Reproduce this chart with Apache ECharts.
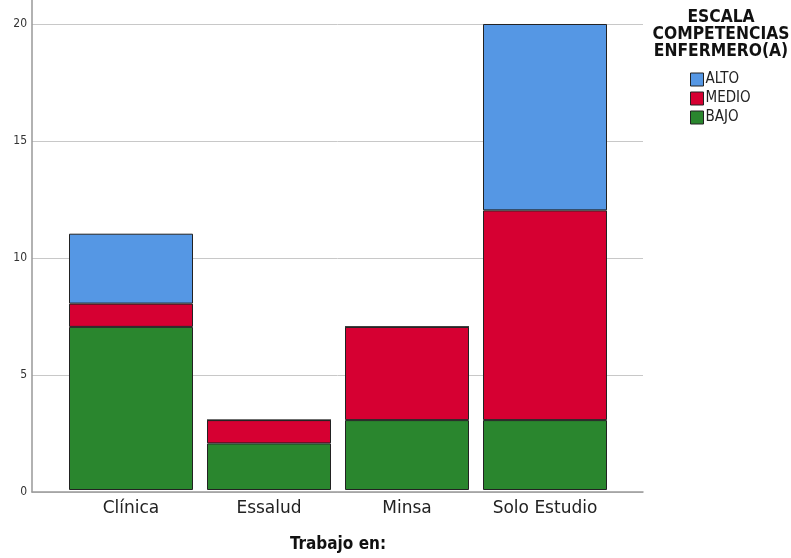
<!DOCTYPE html>
<html>
<head>
<meta charset="utf-8">
<script src="https://cdn.jsdelivr.net/npm/echarts@6/dist/echarts.min.js"></script>
<style>html,body{margin:0;padding:0;background:#fff}#c{width:791px;height:558px}</style>
</head>
<body>
<div id="c"></div>
<script>
const categories = ['Clínica', 'Essalud', 'Minsa', 'Solo Estudio'];
const bajo  = [7, 2, 3, 3];
const medio = [1, 1, 4, 9];
const alto  = [3, 0, 0, 8];
const seriesNames = ['ALTO', 'MEDIO', 'BAJO'];
const legendTitle = 'ESCALA\nCOMPETENCIAS\nENFERMERO(A)';
const xTitle = 'Trabajo en:';
const yMax = 21.03;
const yTickStep = 5;

const colors = { ALTO: '#5597E4', MEDIO: '#D60032', BAJO: '#2A862E' };
const FONT = 'DejaVu Sans';
const FONTC = 'DejaVu Sans Condensed';

const chart = echarts.init(document.getElementById('c'), null, { renderer: 'canvas' });

function barSeries(name, data) {
  return {
    name: name, type: 'bar', stack: 'total', data: data,
    xAxisIndex: 1, yAxisIndex: 1,
    barWidth: 124,
    itemStyle: { color: colors[name], borderColor: '#222', borderWidth: 1 },
    emphasis: { disabled: true },
    animation: false
  };
}

chart.setOption({
  animation: false,
  grid: [
    { left: 32, right: 148, top: 0, bottom: 66 },
    { left: 62, right: 177, top: 0, bottom: 66 }
  ],
  title: {
    text: legendTitle,
    left: 721, top: 9, padding: 0,
    textAlign: 'center',
    textStyle: { fontFamily: FONTC, fontWeight: 'bold', fontSize: 17.3, lineHeight: 17, color: '#111' }
  },
  legend: {
    data: seriesNames,
    orient: 'vertical',
    left: 690, top: 72, padding: 0,
    itemWidth: 13, itemHeight: 13, itemGap: 4,
    icon: 'rect',
    textStyle: { fontFamily: FONTC, fontSize: 15, lineHeight: 14, color: '#222', padding: [0, 0, 0, -3] },
    itemStyle: { borderColor: '#222', borderWidth: 1 }
  },
  xAxis: [
    {
      gridIndex: 0, type: 'value', min: 0, max: 1,
      axisLine: { show: true, onZero: false, lineStyle: { color: '#999', width: 1.5 } },
      axisTick: { show: false }, axisLabel: { show: false }, splitLine: { show: false }
    },
    {
      gridIndex: 1, type: 'category', data: categories,
      axisLine: { show: false }, axisTick: { show: false },
      axisLabel: { fontFamily: FONT, fontSize: 17, color: '#222', margin: 10 },
      name: xTitle, nameLocation: 'middle', nameGap: 46,
      nameTextStyle: { fontFamily: FONTC, fontWeight: 'bold', fontSize: 17, color: '#111' }
    }
  ],
  yAxis: [
    {
      gridIndex: 0, type: 'value', min: 0, max: yMax, interval: yTickStep,
      axisLine: { show: true, lineStyle: { color: '#999', width: 1.5 } },
      axisTick: { show: false },
      axisLabel: {
        fontFamily: FONTC, fontSize: 12, color: '#333', margin: 5, showMaxLabel: false,
        formatter: v => (v % yTickStep === 0 ? String(v) : '')
      },
      splitLine: { show: true, showMaxLine: false, lineStyle: { color: '#c8c8c8', width: 1 } }
    },
    {
      gridIndex: 1, type: 'value', min: 0, max: yMax, interval: yTickStep, show: false,
      splitLine: { show: false }
    }
  ],
  series: [
    barSeries('BAJO', bajo),
    barSeries('MEDIO', medio),
    barSeries('ALTO', alto)
  ]
});
</script>
</body>
</html>
